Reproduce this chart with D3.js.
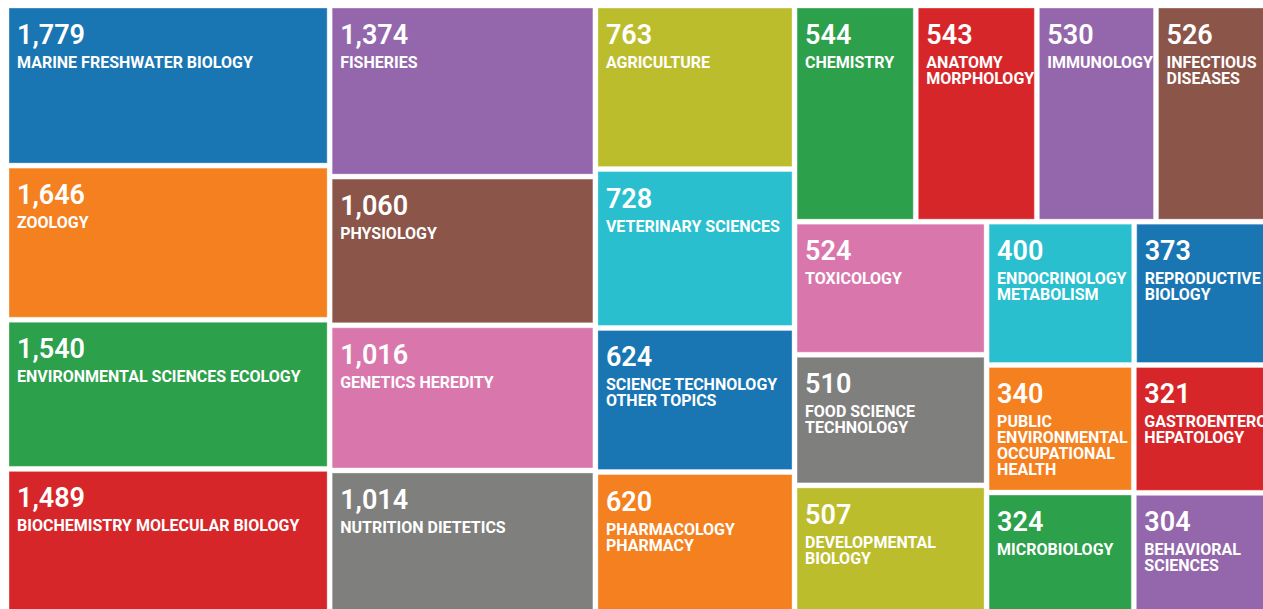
<!DOCTYPE html>
<html>
<head>
<meta charset="utf-8">
<script src="https://cdn.jsdelivr.net/npm/d3@7"></script>
<style>
  html, body { margin: 0; padding: 0; background: #fff; overflow: hidden; }
  svg { display: block; }
  .num { font-family: Roboto, "Open Sans", sans-serif; font-weight: 600; font-size: 27px; fill: #fff; }
  .lab { font-family: Roboto, "Open Sans", sans-serif; font-weight: 700; font-size: 16px; fill: #fff; }
</style>
</head>
<body>
<div class="d3-content"></div>
<script>
const SVG_WIDTH = 1263;
const SVG_HEIGHT = 609;
const MARGIN = { top: 8, left: 9 };
const MAP_WIDTH = 1263;
const MAP_HEIGHT = 605;
const RATIO_START = 1.65;

// research areas, largest first
const categories = [
  'MARINE FRESHWATER BIOLOGY', 'ZOOLOGY', 'ENVIRONMENTAL SCIENCES ECOLOGY',
  'BIOCHEMISTRY MOLECULAR BIOLOGY', 'FISHERIES', 'PHYSIOLOGY', 'GENETICS HEREDITY',
  'NUTRITION DIETETICS', 'AGRICULTURE', 'VETERINARY SCIENCES',
  'SCIENCE TECHNOLOGY OTHER TOPICS', 'PHARMACOLOGY PHARMACY', 'CHEMISTRY',
  'ANATOMY MORPHOLOGY', 'IMMUNOLOGY', 'INFECTIOUS DISEASES', 'TOXICOLOGY',
  'FOOD SCIENCE TECHNOLOGY', 'DEVELOPMENTAL BIOLOGY', 'ENDOCRINOLOGY METABOLISM',
  'REPRODUCTIVE BIOLOGY', 'PUBLIC ENVIRONMENTAL OCCUPATIONAL HEALTH',
  'MICROBIOLOGY', 'GASTROENTEROLOGY HEPATOLOGY', 'BEHAVIORAL SCIENCES'
];
const records = [
  1779, 1646, 1540, 1489, 1374, 1060, 1016, 1014, 763, 728, 624, 620,
  544, 543, 530, 526, 524, 510, 507, 400, 373, 340, 324, 321, 304
];
const palette = [
  '#1a76b3', '#f58020', '#2ca04a', '#d72629', '#9467ac',
  '#8b5549', '#d977ad', '#7f7f7e', '#bcbd2c', '#29bfcf'
];

const data = categories.map((name, i) => ({ name: name, value: records[i] }));

const svg = d3.select('.d3-content')
  .append('svg')
  .attr('width', SVG_WIDTH)
  .attr('height', SVG_HEIGHT);

const color = d3.scaleOrdinal()
  .domain(categories)
  .range(palette);

// tile area follows a symlog of the count, big areas are squeezed
const size = d3.scaleSymlog()
  .constant(400)
  .domain([0, d3.max(records)])
  .range([0, 100]);

// squarify, but the target aspect eases toward square as the area left shrinks
function tileEased(parent, x0, y0, x1, y1) {
  const nodes = parent.children;
  const n = nodes.length;
  const total = parent.value;
  let value = parent.value;
  let i0 = 0, i1 = 0;
  while (i0 < n) {
    const dx = x1 - x0, dy = y1 - y0;
    const ratio = 1 + (RATIO_START - 1) * Math.sqrt(value / total);
    let sumValue = nodes[i1++].value;
    let minValue = sumValue, maxValue = sumValue;
    const alpha = Math.max(dy / dx, dx / dy) / (value * ratio);
    let beta = sumValue * sumValue * alpha;
    let minRatio = Math.max(maxValue / beta, beta / minValue);
    for (; i1 < n; ++i1) {
      const v = nodes[i1].value;
      sumValue += v;
      if (v < minValue) minValue = v;
      if (v > maxValue) maxValue = v;
      beta = sumValue * sumValue * alpha;
      const newRatio = Math.max(maxValue / beta, beta / minValue);
      if (newRatio > minRatio) { sumValue -= v; break; }
      minRatio = newRatio;
    }
    const row = { value: sumValue, children: nodes.slice(i0, i1) };
    if (dx < dy) d3.treemapDice(row, x0, y0, x1, y0 += dy * sumValue / value);
    else d3.treemapSlice(row, x0, y0, x0 += dx * sumValue / value, y1);
    value -= sumValue;
    i0 = i1;
  }
}

const root = d3.hierarchy({ children: data })
  .sum(d => d.value ? size(d.value) : 0)
  .sort((a, b) => b.value - a.value);

d3.treemap()
  .tile(tileEased)
  .size([MAP_WIDTH, MAP_HEIGHT])
  .paddingInner(5)(root);

const chart = svg.append('g')
  .attr('transform', `translate(${MARGIN.left}, ${MARGIN.top})`);

const leaves = root.leaves();

chart.append('g')
  .selectAll('rect')
  .data(leaves)
  .join('rect')
  .attr('x', d => d.x0)
  .attr('y', d => d.y0)
  .attr('width', d => d.x1 - d.x0)
  .attr('height', d => d.y1 - d.y0)
  .attr('fill', d => color(d.data.name))
  .attr('stroke', 'rgba(255,255,255,0.35)')
  .attr('stroke-width', 1);

const cell = chart.append('g')
  .selectAll('g')
  .data(leaves)
  .join('g')
  .attr('transform', d => `translate(${d.x0}, ${d.y0})`);

cell.append('text')
  .attr('class', 'num')
  .attr('x', 8)
  .attr('y', 36)
  .text(d => d3.format(',')(d.data.value));

// labels wrap on words to the tile width
cell.each(function(d) {
  const maxW = (d.x1 - d.x0) - 14;
  const text = d3.select(this).append('text')
    .attr('class', 'lab')
    .attr('x', 8)
    .attr('y', 60);
  const words = d.data.name.split(' ');
  let line = [];
  let tspan = text.append('tspan').attr('x', 8).attr('dy', 0);
  words.forEach(w => {
    line.push(w);
    tspan.text(line.join(' '));
    if (tspan.node().getComputedTextLength() > maxW && line.length > 1) {
      line.pop();
      tspan.text(line.join(' '));
      line = [w];
      tspan = text.append('tspan').attr('x', 8).attr('dy', 16).text(w);
    }
  });
});
</script>
</body>
</html>
